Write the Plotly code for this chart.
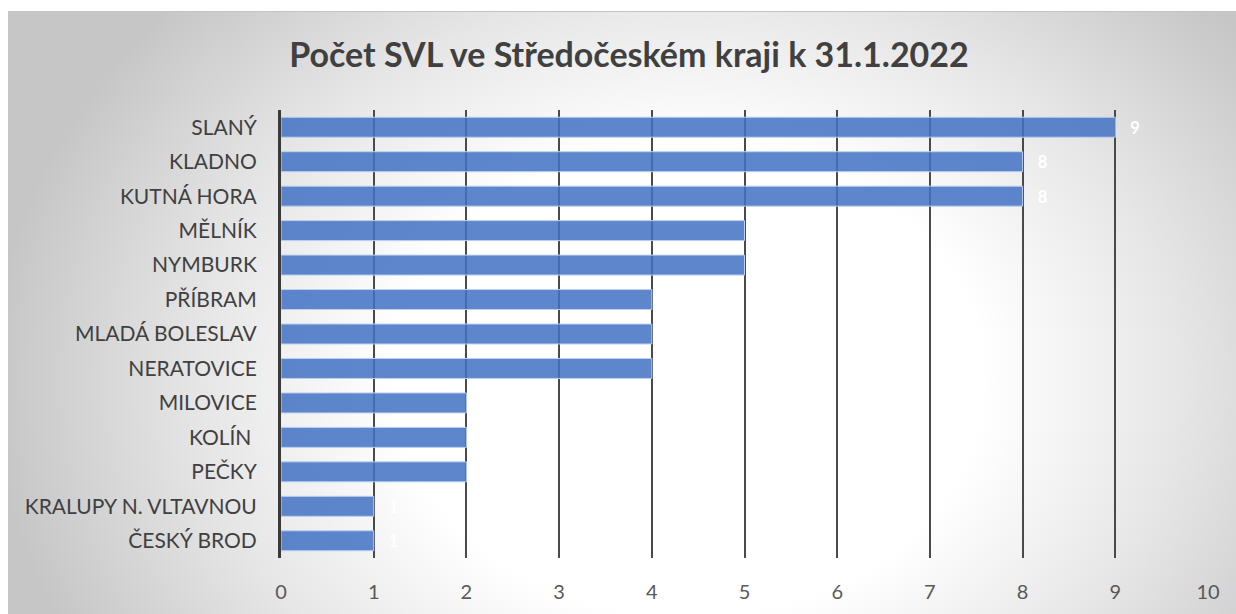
import plotly.graph_objects as go
import base64

categories = ["SLANÝ", "KLADNO", "KUTNÁ HORA", "MĚLNÍK", "NYMBURK", "PŘÍBRAM",
              "MLADÁ BOLESLAV", "NERATOVICE", "MILOVICE", "KOLÍN ", "PEČKY",
              "KRALUPY N. VLTAVNOU", "ČESKÝ BROD"]
values = [9, 8, 8, 5, 5, 4, 4, 4, 2, 2, 2, 1, 1]
x_ticks = list(range(0, 11))
title_text = "Počet SVL ve Středočeském kraji k 31.1.2022"

FONT = "Lato, 'Open Sans', sans-serif"

W, H = 1236, 614
L, R, T, B = 281, 1208, 110, 558

svg = '''<svg xmlns="http://www.w3.org/2000/svg" width="1228" height="603" viewBox="0 0 1228 603">
<defs><radialGradient id="g" cx="0" cy="0" r="1" gradientUnits="userSpaceOnUse" gradientTransform="translate(682,370) scale(700,560)">
<stop offset="0" stop-color="#ffffff"/><stop offset="0.42" stop-color="#ffffff"/><stop offset="0.7" stop-color="#e6e6e6"/><stop offset="1" stop-color="#c6c6c6"/></radialGradient></defs>
<rect x="0" y="0" width="1228" height="603" fill="url(#g)"/>
<line x1="0" y1="0.5" x2="1228" y2="0.5" stroke="#c4c4c4" stroke-width="1"/>
</svg>'''
src = "data:image/svg+xml;base64," + base64.b64encode(svg.encode()).decode()

pw, ph = R - L, B - T

fig = go.Figure()
fig.add_trace(go.Bar(
    y=categories, x=values, orientation="h",
    marker=dict(color="rgba(68,114,196,0.86)", line=dict(color="rgba(190,208,238,1)", width=1)),
    width=0.58,
    text=["   " + str(v) for v in values], textposition="outside",
    textfont=dict(family=FONT, size=19, color="white", weight="bold"),
    cliponaxis=False,
))

fig.update_layout(
    width=W, height=H,
    margin=dict(l=L, r=W - R, t=T, b=H - B, autoexpand=False),
    paper_bgcolor="white", plot_bgcolor="rgba(0,0,0,0)",
    showlegend=False,
    title=dict(text=title_text, x=629 / W, xanchor="center", y=1 - 55 / H, yanchor="middle",
               font=dict(family=FONT, size=34, color="#404040", weight="bold")),
    xaxis=dict(range=[0, 10], tickvals=x_ticks, showgrid=True, gridcolor="#4a4a4a", gridwidth=1.6,
               zeroline=False, showline=False, ticks="", ticklabelstandoff=20, automargin=False,
               tickfont=dict(family=FONT, size=20, color="#595959"), fixedrange=True),
    yaxis=dict(autorange=False, range=[12.5, -0.5], type="category",
               showline=True, linecolor="#3a3a3a", linewidth=3, showgrid=False,
               ticks="", ticklabelstandoff=17, zeroline=False, automargin=False,
               tickfont=dict(family=FONT, size=21, color="#404040"), fixedrange=True),
    bargap=0.42,
    images=[dict(source=src, xref="paper", yref="paper",
                 x=(8 - L) / pw, y=(B - 11) / ph, sizex=1228 / pw, sizey=603 / ph,
                 xanchor="left", yanchor="top", sizing="stretch", layer="below")],
)

fig.write_html("out.html", post_script="document.body.style.margin='0';",
               config={"displayModeBar": False})
